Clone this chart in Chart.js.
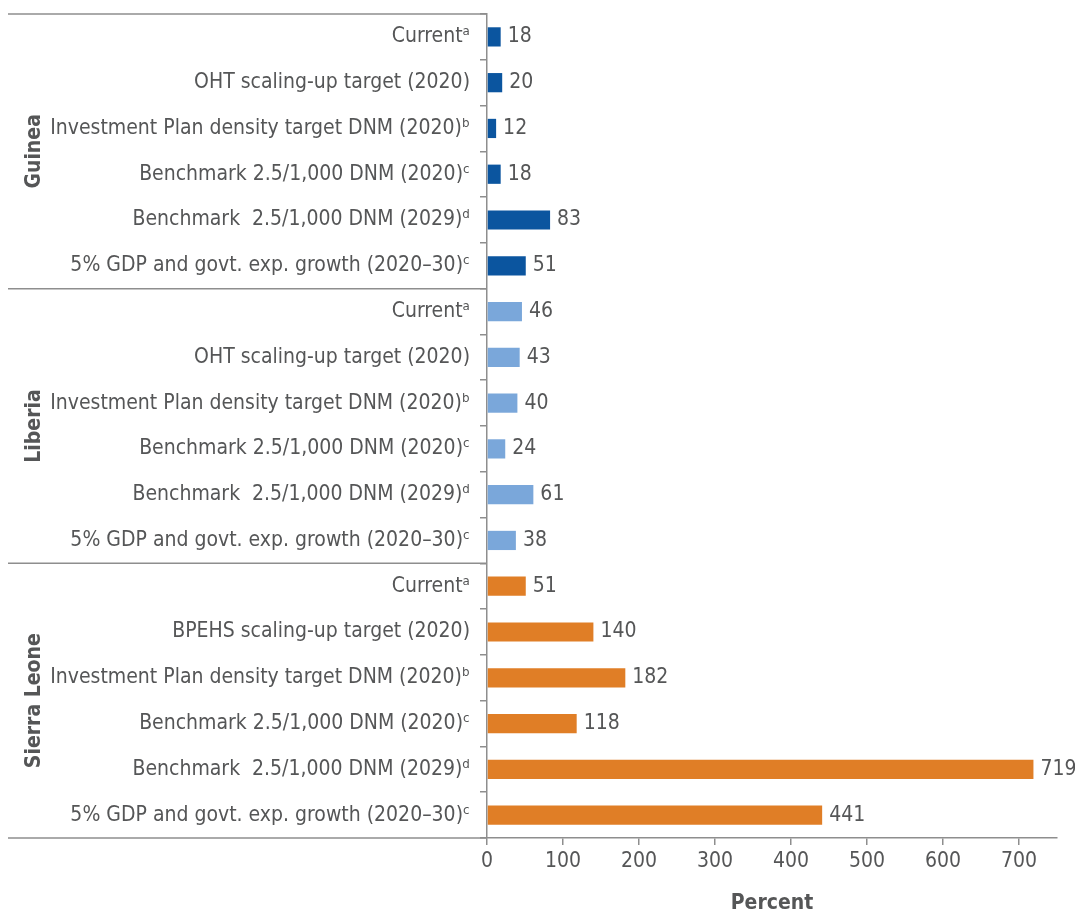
<!DOCTYPE html>
<html>
<head>
<meta charset="utf-8">
<script src="https://cdn.jsdelivr.net/npm/chart.js@4.4.0/dist/chart.umd.min.js"></script>
<style>
  body { margin: 0; background: #fff; }
  #wrap { width: 1075px; height: 916px; }
</style>
</head>
<body>
<div id="wrap"><canvas id="barchart"></canvas></div>
<script>
// Row labels for each country block (same order top to bottom)
const guineaLabels = ['Current\u1D43', 'OHT scaling-up target (2020)', 'Investment Plan density target DNM (2020)\u1D47',
    'Benchmark 2.5/1,000 DNM (2020)\u1D9C', 'Benchmark  2.5/1,000 DNM (2029)\u1D48', '5% GDP and govt. exp. growth (2020\u201330)\u1D9C'];
const liberiaLabels = ['Current\u1D43', 'OHT scaling-up target (2020)', 'Investment Plan density target DNM (2020)\u1D47',
    'Benchmark 2.5/1,000 DNM (2020)\u1D9C', 'Benchmark  2.5/1,000 DNM (2029)\u1D48', '5% GDP and govt. exp. growth (2020\u201330)\u1D9C'];
const sierraLabels = ['Current\u1D43', 'BPEHS scaling-up target (2020)', 'Investment Plan density target DNM (2020)\u1D47',
    'Benchmark 2.5/1,000 DNM (2020)\u1D9C', 'Benchmark  2.5/1,000 DNM (2029)\u1D48', '5% GDP and govt. exp. growth (2020\u201330)\u1D9C'];

const guineaValues = [18, 20, 12, 18, 83, 51];
const liberiaValues = [46, 43, 40, 24, 61, 38];
const sierraValues = [51, 140, 182, 118, 719, 441];

const groupNames = ['Guinea', 'Liberia', 'Sierra Leone'];
const groupColors = ['#0b559f', '#7aa7da', '#e07e26'];
const xTicks = [0, 100, 200, 300, 400, 500, 600, 700];

const labels = [...guineaLabels, ...liberiaLabels, ...sierraLabels];
const values = [...guineaValues, ...liberiaValues, ...sierraValues];
const groupSizes = [guineaValues.length, liberiaValues.length, sierraValues.length];
const barColors = [];
groupSizes.forEach((n, g) => { for (let i = 0; i < n; i++) barColors.push(groupColors[g]); });

const FONT = "'DejaVu Sans Condensed', 'Liberation Sans Narrow', sans-serif";
const TEXT = '#555657';
const LINE = '#8e8e8e';

// value next to the end of each bar
const valueLabels = {
    id: 'valueLabels',
    afterDatasetsDraw(chart) {
        const ctx = chart.ctx;
        const meta = chart.getDatasetMeta(0);
        ctx.save();
        ctx.font = '21px ' + FONT;
        ctx.fillStyle = TEXT;
        ctx.textAlign = 'left';
        ctx.textBaseline = 'middle';
        meta.data.forEach((bar, i) => {
            ctx.fillText(values[i], bar.x + 7, bar.y);
        });
        ctx.restore();
    }
};

// country separators and rotated country names on the left
const groupBlocks = {
    id: 'groupBlocks',
    afterDraw(chart) {
        const ctx = chart.ctx;
        const y = chart.scales.y;
        const left = 8;
        const right = chart.chartArea.left;
        const step = y.getPixelForValue(1) - y.getPixelForValue(0);
        ctx.save();
        ctx.strokeStyle = LINE;
        ctx.lineWidth = 1.5;
        let start = 0;
        const edges = [y.getPixelForValue(0) - step / 2];
        groupSizes.forEach(n => { start += n; edges.push(y.getPixelForValue(start - 1) + step / 2); });
        edges.forEach(e => {
            ctx.beginPath();
            ctx.moveTo(left, e);
            ctx.lineTo(right, e);
            ctx.stroke();
        });
        ctx.font = 'bold 21px ' + FONT;
        ctx.fillStyle = TEXT;
        ctx.textAlign = 'center';
        ctx.textBaseline = 'middle';
        groupNames.forEach((name, g) => {
            ctx.save();
            ctx.translate(35, (edges[g] + edges[g + 1]) / 2);
            ctx.rotate(-Math.PI / 2);
            ctx.fillText(name, 0, 0);
            ctx.restore();
        });
        ctx.restore();
    }
};

const ctx = document.getElementById('barchart').getContext('2d');
const barchart = new Chart(ctx, {
    type: 'bar',
    data: {
        labels: labels,
        datasets: [{
            data: values,
            backgroundColor: barColors,
            barPercentage: 0.42,
            categoryPercentage: 1.0
        }]
    },
    options: {
        indexAxis: 'y',
        responsive: true,
        maintainAspectRatio: false,
        animation: false,
        layout: { padding: { top: 14, right: 18, left: 0, bottom: 0 } },
        plugins: {
            legend: { display: false },
            tooltip: { enabled: false }
        },
        scales: {
            x: {
                min: 0,
                max: 750,
                afterBuildTicks: scale => { scale.ticks = xTicks.map(v => ({ value: v })); },
                afterFit: scale => { scale.height = 78; },
                border: { color: LINE, width: 1.5 },
                grid: { display: true, drawOnChartArea: false, tickLength: 7, color: LINE, lineWidth: 1.5 },
                ticks: { color: TEXT, font: { family: FONT, size: 21 }, padding: 4, maxRotation: 0 },
                title: {
                    display: true,
                    text: 'Percent',
                    color: TEXT,
                    font: { family: FONT, size: 21, weight: 'bold' },
                    padding: { top: 15, bottom: 0 }
                }
            },
            y: {
                afterFit: scale => {
                    scale.width = 487;
                    scale.paddingTop = 0;
                    scale.paddingBottom = 0;
                },
                border: { color: LINE, width: 1.5 },
                grid: { display: true, drawOnChartArea: false, offset: true, tickLength: 7, color: LINE, lineWidth: 1.5 },
                ticks: { color: TEXT, font: { family: FONT, size: 21 }, padding: 10, autoSkip: false }
            }
        }
    },
    plugins: [valueLabels, groupBlocks]
});
</script>
</body>
</html>
